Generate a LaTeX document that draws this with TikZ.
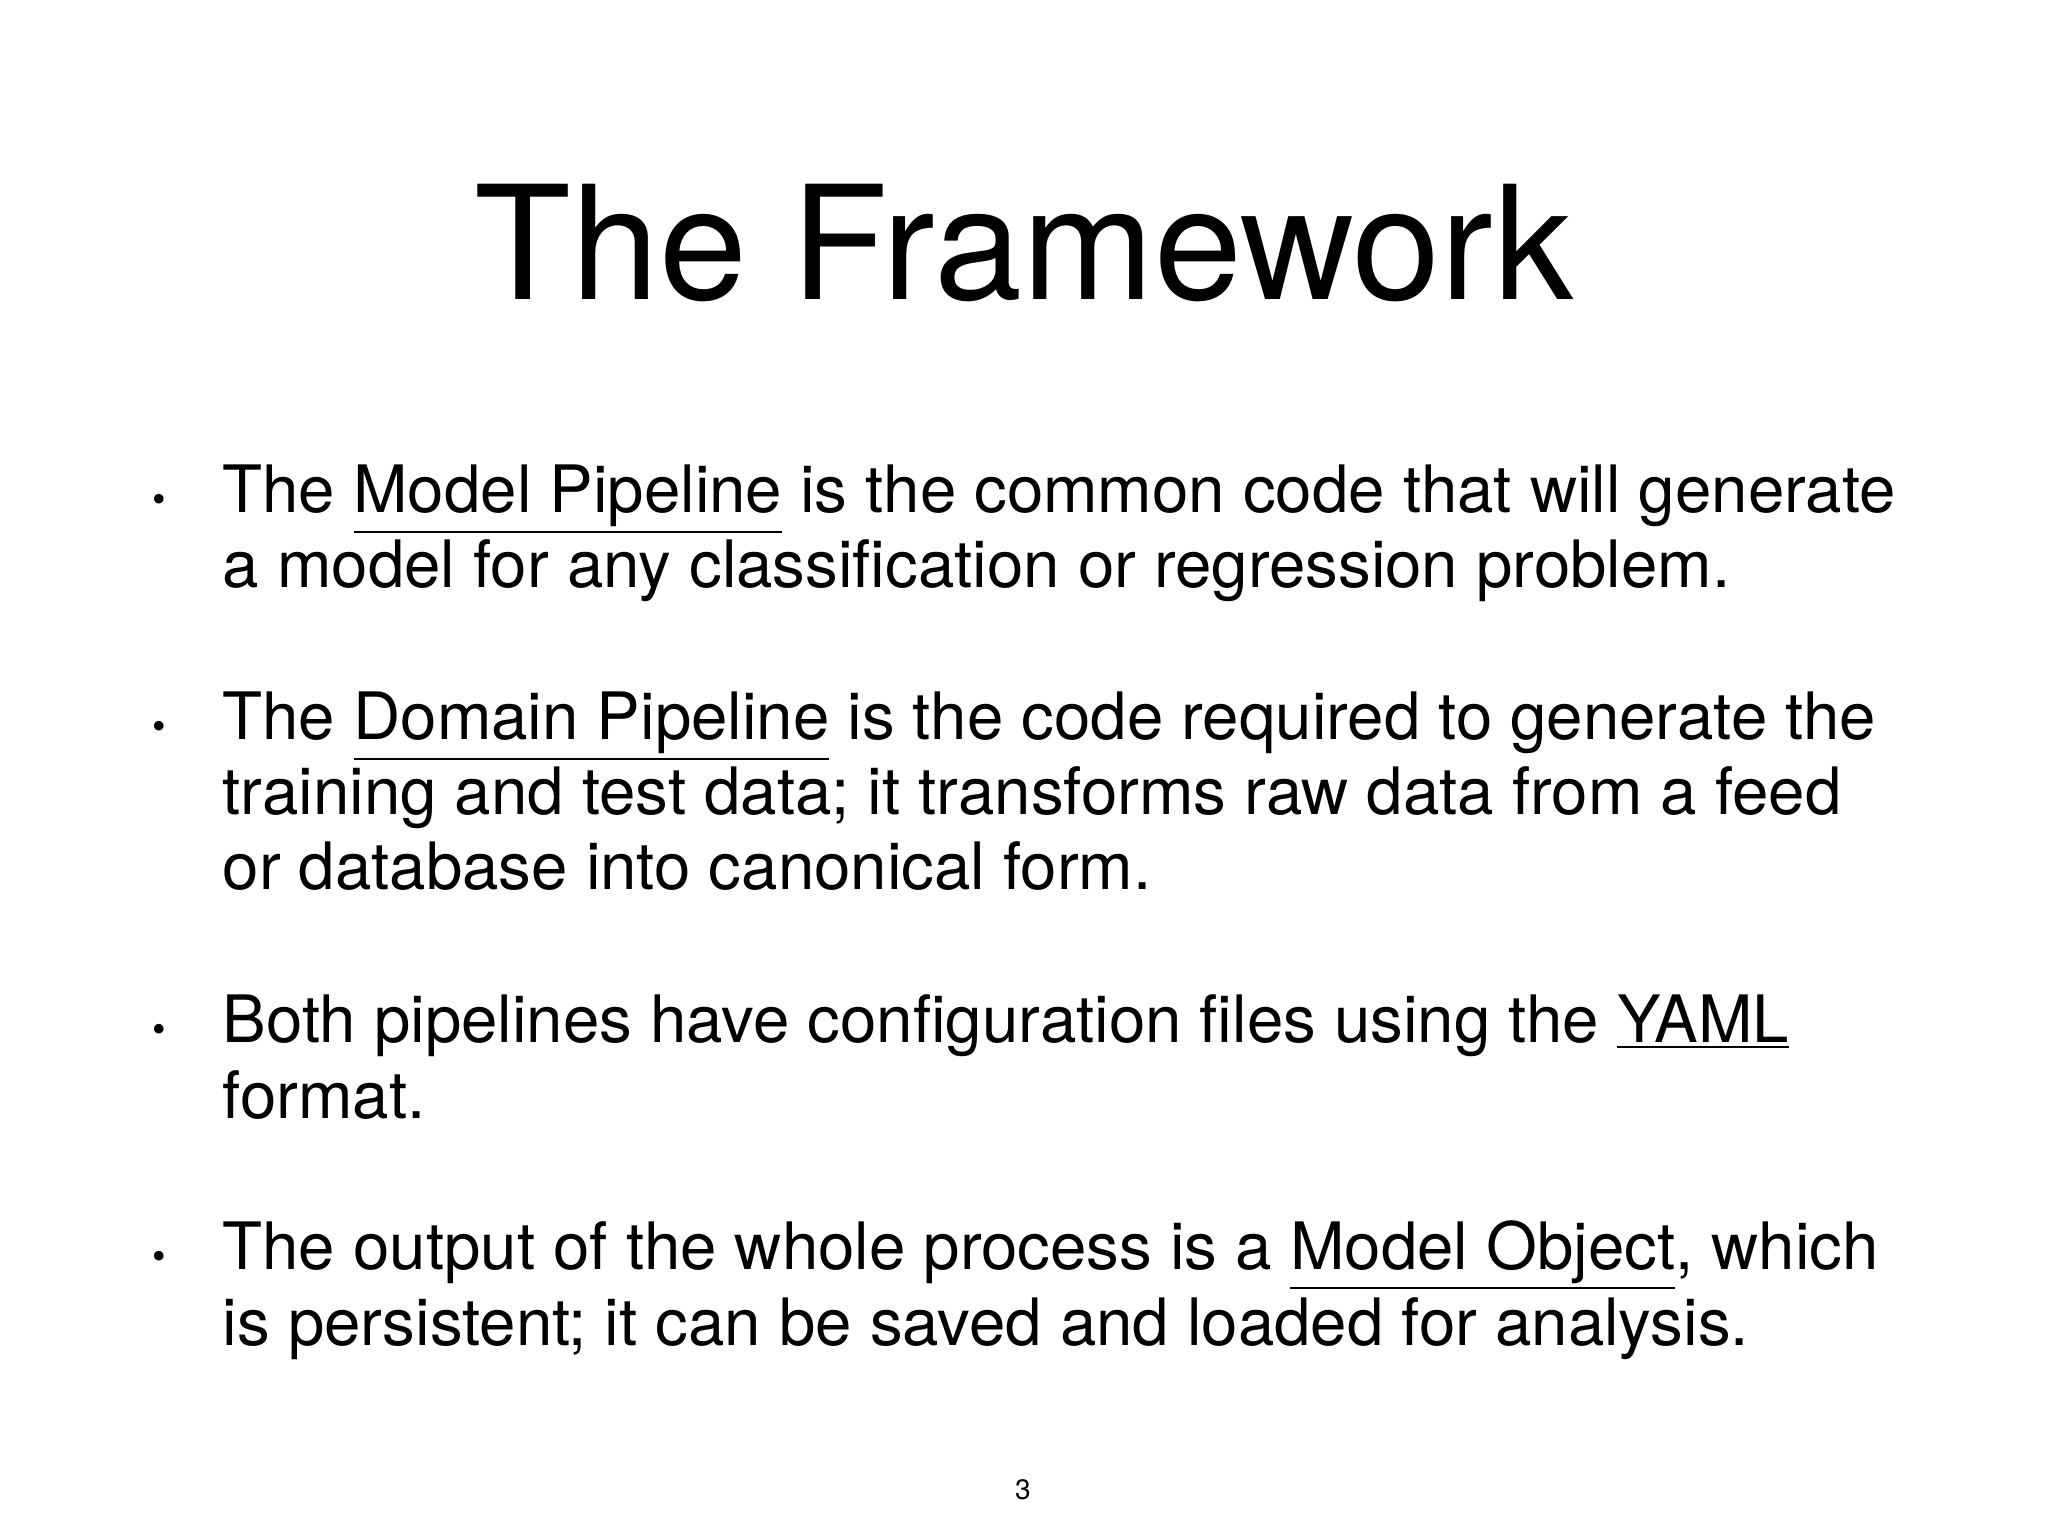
\documentclass[tikz,border=0pt]{standalone}
\usepackage{fontspec}
\setmainfont{TeX Gyre Heros}
\begin{document}
\begin{tikzpicture}[x=1cm,y=1cm,
  line/.style={anchor=base west,inner sep=0pt,font=\fontsize{18.6}{22}\selectfont},
  bul/.style={anchor=base,inner sep=0pt,font=\fontsize{11}{13}\selectfont}]
\useasboundingbox (0,0) rectangle (20.48,-15.36);
\node[anchor=base,inner sep=0pt,font=\fontsize{45}{50}\selectfont] (title) at (10.24,-3.00) {The Framework};
\node[bul] (b1) at (1.59,-5.13) {•};
\node[line] (l1) at (2.22,-5.13) {The \underline{Model Pipeline} is the common code that will generate};
\node[line] (l2) at (2.22,-5.88) {a model for any classification or regression problem.};
\node[bul] (b2) at (1.59,-7.40) {•};
\node[line] (l3) at (2.22,-7.40) {The \underline{Domain Pipeline} is the code required to generate the};
\node[line] (l4) at (2.22,-8.15) {training and test data; it transforms raw data from a feed};
\node[line] (l5) at (2.22,-8.89) {or database into canonical form.};
\node[bul] (b3) at (1.59,-10.42) {•};
\node[line] (l6) at (2.22,-10.42) {Both pipelines have configuration files using the \underline{YAML}};
\node[line] (l7) at (2.22,-11.18) {format.};
\node[bul] (b4) at (1.59,-12.69) {•};
\node[line] (l8) at (2.22,-12.69) {The output of the whole process is a \underline{Model Object}, which};
\node[line] (l9) at (2.22,-13.45) {is persistent; it can be saved and loaded for analysis.};
\node[anchor=base,inner sep=0pt,font=\fontsize{8}{10}\selectfont] (pg) at (10.23,-14.99) {3};
\end{tikzpicture}
\end{document}
